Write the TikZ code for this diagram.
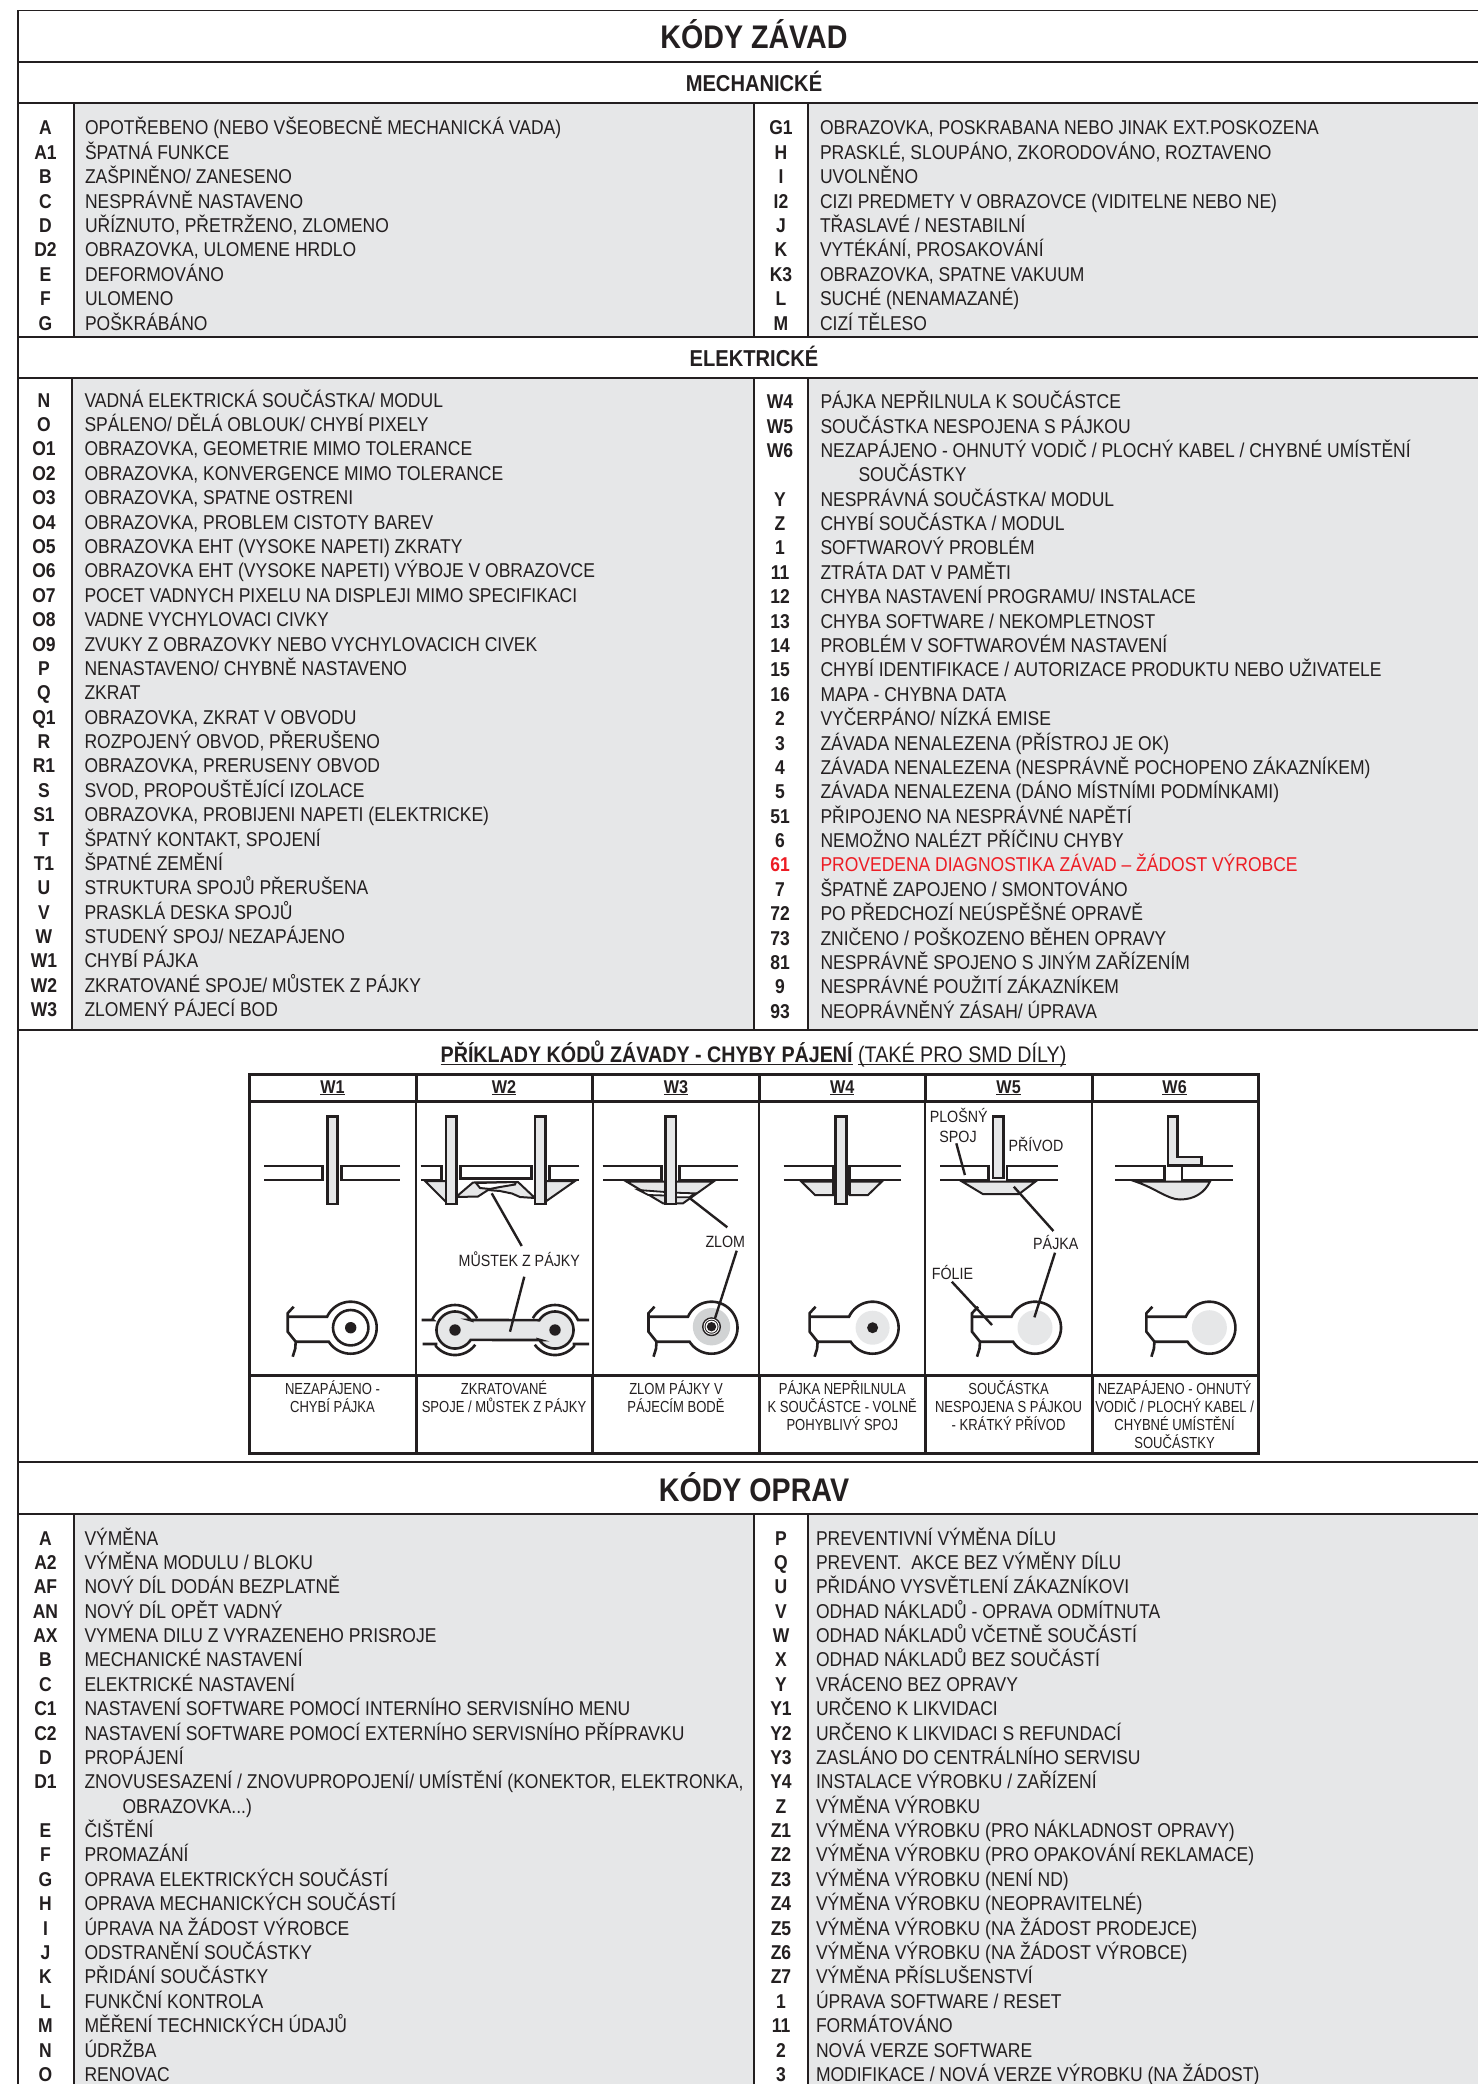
\documentclass[tikz,border=0pt]{standalone}
\usepackage{fontspec}
\setmainfont[FakeStretch=0.875]{Liberation Sans}
\newfontfamily\capfont[FakeStretch=0.815]{Liberation Sans}
\definecolor{ink}{HTML}{231F20}
\definecolor{panel}{HTML}{E6E7E8}
\definecolor{disk}{HTML}{D1D3D4}
\definecolor{redtxt}{HTML}{ED1C24}
\newcount\rowid \rowid=0
\newcommand\startrows[3]{\def\cx{#1}\def\tx{#2}\def\ry{#3}}
\newcommand\rw[3][]{\advance\rowid by 1
  \node[rowcode,name=c\the\rowid,#1] at (\cx,\ry) {#2};
  \node[rowdesc,name=d\the\rowid,#1] at (\tx,\ry) {#3};
  \pgfmathsetmacro\ry{\ry+24.38}}
\newcommand\rwc[1]{\advance\rowid by 1
  \node[rowdesc,name=d\the\rowid] at (\tx+38,\ry) {#1};
  \pgfmathsetmacro\ry{\ry+24.38}}
\newcommand\ulx[1]{\underline{\smash{#1}}}
\newcommand\capcell[3]{\node[capt,name=#1] at (#2,1394) {\parbox[t]{167pt}{\centering\capfont\fontsize{16}{18}\selectfont #3}};}
% pad with narrowing track, centred at #1,#2
\newcommand\padout[2]{
  \begin{scope}[shift={(#1,#2)}]
  \draw[part] (-63,-11) -- plot[domain=205:507.4,samples=60] ({26*cos(\x)},{26*sin(\x)}) -- (-55,14);
  \draw[part] (-57,-21) -- (-63,-14.5) -- (-63,4) -- (-55,14) -- (-55.5,21) -- (-58,29);
  \end{scope}}
% through-board pin
\newcommand\pinrect[2]{\draw[part,fill=panel] (#1,1116.5) rectangle (#2,1204);}
\tikzset{
  rule/.style={draw=ink,line width=1.5pt},
  rowcode/.style={anchor=base,inner sep=0pt,outer sep=0pt,font=\fontsize{20}{24}\selectfont\bfseries,text=ink},
  rowdesc/.style={anchor=base west,inner sep=0pt,outer sep=0pt,font=\fontsize{20}{24}\selectfont,text=ink},
  redrow/.style={text=redtxt},
  title/.style={anchor=base,inner sep=0pt,outer sep=0pt,font=\fontsize{32.7}{36}\selectfont\bfseries,text=ink},
  subtitle/.style={anchor=base,inner sep=0pt,outer sep=0pt,font=\fontsize{23}{26}\selectfont\bfseries,text=ink},
  head/.style={anchor=base,inner sep=0pt,outer sep=0pt,font=\fontsize{18.5}{20}\selectfont\bfseries,text=ink},
  capt/.style={anchor=base,inner sep=0pt,outer sep=0pt,text=ink},
  lab/.style={anchor=base,inner sep=0pt,outer sep=0pt,font=\fontsize{16.3}{18}\selectfont,text=ink},
  part/.style={draw=ink,line width=2.6pt,line join=miter},
  leader/.style={draw=ink,line width=2.4pt},
  thick3/.style={draw=ink,line width=3pt},
  thin2/.style={draw=ink,line width=2pt}
}
\begin{document}
\begin{tikzpicture}[x=1pt,y=-1pt]
\useasboundingbox (0,0) rectangle (1478,2084);
\fill[white] (0,0) rectangle (1478,2084);
% grey panels
\fill[panel] (74,103) rectangle (754,337);
\fill[panel] (808,103) rectangle (1478,337);
\fill[panel] (72,378) rectangle (754,1030);
\fill[panel] (808,378) rectangle (1478,1030);
\fill[panel] (74,1514) rectangle (754,2084);
\fill[panel] (808,1514) rectangle (1478,2084);
% rules
\draw[rule] (1478,10.7) -- (18,10.7) -- (18,2084);
\foreach \yy in {62,103,337,378,1030,1462,1514} \draw[rule] (18,\yy) -- (1478,\yy);
\draw[rule] (74,103) -- (74,337);
\draw[rule] (754,103) -- (754,337);
\draw[rule] (808,103) -- (808,337);
\draw[rule] (72,378) -- (72,1030);
\draw[rule] (754,378) -- (754,1030);
\draw[rule] (808,378) -- (808,1030);
\draw[rule] (74,1514) -- (74,2084);
\draw[rule] (754,1514) -- (754,2084);
\draw[rule] (808,1514) -- (808,2084);
% titles
\node[title,name=t1] at (754,49) {KÓDY ZÁVAD};
\node[subtitle,name=t2] at (754,91.7) {MECHANICKÉ};
\node[subtitle,name=t3] at (754,366.7) {ELEKTRICKÉ};
\node[title,name=t4] at (754,1501.6) {KÓDY OPRAV};
% mechanical left
\startrows{45.5}{85}{135}
\rw{A}{OPOTŘEBENO (NEBO VŠEOBECNĚ MECHANICKÁ VADA)}
\rw{A1}{ŠPATNÁ FUNKCE}
\rw{B}{ZAŠPINĚNO/ ZANESENO}
\rw{C}{NESPRÁVNĚ NASTAVENO}
\rw{D}{UŘÍZNUTO, PŘETRŽENO, ZLOMENO}
\rw{D2}{OBRAZOVKA, ULOMENE HRDLO}
\rw{E}{DEFORMOVÁNO}
\rw{F}{ULOMENO}
\rw{G}{POŠKRÁBÁNO}
% mechanical right
\startrows{781}{820}{135}
\rw{G1}{OBRAZOVKA, POSKRABANA NEBO JINAK EXT.POSKOZENA}
\rw{H}{PRASKLÉ, SLOUPÁNO, ZKORODOVÁNO, ROZTAVENO}
\rw{I}{UVOLNĚNO}
\rw{I2}{CIZI PREDMETY V OBRAZOVCE (VIDITELNE NEBO NE)}
\rw{J}{TŘASLAVÉ / NESTABILNÍ}
\rw{K}{VYTÉKÁNÍ, PROSAKOVÁNÍ}
\rw{K3}{OBRAZOVKA, SPATNE VAKUUM}
\rw{L}{SUCHÉ (NENAMAZANÉ)}
\rw{M}{CIZÍ TĚLESO}
% electrical left
\startrows{44}{84.5}{407.2}
\rw{N}{VADNÁ ELEKTRICKÁ SOUČÁSTKA/ MODUL}
\rw{O}{SPÁLENO/ DĚLÁ OBLOUK/ CHYBÍ PIXELY}
\rw{O1}{OBRAZOVKA, GEOMETRIE MIMO TOLERANCE}
\rw{O2}{OBRAZOVKA, KONVERGENCE MIMO TOLERANCE}
\rw{O3}{OBRAZOVKA, SPATNE OSTRENI}
\rw{O4}{OBRAZOVKA, PROBLEM CISTOTY BAREV}
\rw{O5}{OBRAZOVKA EHT (VYSOKE NAPETI) ZKRATY}
\rw{O6}{OBRAZOVKA EHT (VYSOKE NAPETI) VÝBOJE V OBRAZOVCE}
\rw{O7}{POCET VADNYCH PIXELU NA DISPLEJI MIMO SPECIFIKACI}
\rw{O8}{VADNE VYCHYLOVACI CIVKY}
\rw{O9}{ZVUKY Z OBRAZOVKY NEBO VYCHYLOVACICH CIVEK}
\rw{P}{NENASTAVENO/ CHYBNĚ NASTAVENO}
\rw{Q}{ZKRAT}
\rw{Q1}{OBRAZOVKA, ZKRAT V OBVODU}
\rw{R}{ROZPOJENÝ OBVOD, PŘERUŠENO}
\rw{R1}{OBRAZOVKA, PRERUSENY OBVOD}
\rw{S}{SVOD, PROPOUŠTĚJÍCÍ IZOLACE}
\rw{S1}{OBRAZOVKA, PROBIJENI NAPETI (ELEKTRICKE)}
\rw{T}{ŠPATNÝ KONTAKT, SPOJENÍ}
\rw{T1}{ŠPATNÉ ZEMĚNÍ}
\rw{U}{STRUKTURA SPOJŮ PŘERUŠENA}
\rw{V}{PRASKLÁ DESKA SPOJŮ}
\rw{W}{STUDENÝ SPOJ/ NEZAPÁJENO}
\rw{W1}{CHYBÍ PÁJKA}
\rw{W2}{ZKRATOVANÉ SPOJE/ MŮSTEK Z PÁJKY}
\rw{W3}{ZLOMENÝ PÁJECÍ BOD}
% electrical right
\startrows{780}{820.5}{408.7}
\rw{W4}{PÁJKA NEPŘILNULA K SOUČÁSTCE}
\rw{W5}{SOUČÁSTKA NESPOJENA S PÁJKOU}
\rw{W6}{NEZAPÁJENO - OHNUTÝ VODIČ / PLOCHÝ KABEL / CHYBNÉ UMÍSTĚNÍ}
\rwc{SOUČÁSTKY}
\rw{Y}{NESPRÁVNÁ SOUČÁSTKA/ MODUL}
\rw{Z}{CHYBÍ SOUČÁSTKA / MODUL}
\rw{1}{SOFTWAROVÝ PROBLÉM}
\rw{11}{ZTRÁTA DAT V PAMĚTI}
\rw{12}{CHYBA NASTAVENÍ PROGRAMU/ INSTALACE}
\rw{13}{CHYBA SOFTWARE / NEKOMPLETNOST}
\rw{14}{PROBLÉM V SOFTWAROVÉM NASTAVENÍ}
\rw{15}{CHYBÍ IDENTIFIKACE / AUTORIZACE PRODUKTU NEBO UŽIVATELE}
\rw{16}{MAPA - CHYBNA DATA}
\rw{2}{VYČERPÁNO/ NÍZKÁ EMISE}
\rw{3}{ZÁVADA NENALEZENA (PŘÍSTROJ JE OK)}
\rw{4}{ZÁVADA NENALEZENA (NESPRÁVNĚ POCHOPENO ZÁKAZNÍKEM)}
\rw{5}{ZÁVADA NENALEZENA (DÁNO MÍSTNÍMI PODMÍNKAMI)}
\rw{51}{PŘIPOJENO NA NESPRÁVNÉ NAPĚTÍ}
\rw{6}{NEMOŽNO NALÉZT PŘÍČINU CHYBY}
\rw[redrow]{61}{PROVEDENA DIAGNOSTIKA ZÁVAD – ŽÁDOST VÝROBCE}
\rw{7}{ŠPATNĚ ZAPOJENO / SMONTOVÁNO}
\rw{72}{PO PŘEDCHOZÍ NEÚSPĚŠNÉ OPRAVĚ}
\rw{73}{ZNIČENO / POŠKOZENO BĚHEN OPRAVY}
\rw{81}{NESPRÁVNĚ SPOJENO S JINÝM ZAŘÍZENÍM}
\rw{9}{NESPRÁVNÉ POUŽITÍ ZÁKAZNÍKEM}
\rw{93}{NEOPRÁVNĚNÝ ZÁSAH/ ÚPRAVA}
% repair left
\startrows{45.5}{84.5}{1545}
\rw{A}{VÝMĚNA}
\rw{A2}{VÝMĚNA MODULU / BLOKU}
\rw{AF}{NOVÝ DÍL DODÁN BEZPLATNĚ}
\rw{AN}{NOVÝ DÍL OPĚT VADNÝ}
\rw{AX}{VYMENA DILU Z VYRAZENEHO PRISROJE}
\rw{B}{MECHANICKÉ NASTAVENÍ}
\rw{C}{ELEKTRICKÉ NASTAVENÍ}
\rw{C1}{NASTAVENÍ SOFTWARE POMOCÍ INTERNÍHO SERVISNÍHO MENU}
\rw{C2}{NASTAVENÍ SOFTWARE POMOCÍ EXTERNÍHO SERVISNÍHO PŘÍPRAVKU}
\rw{D}{PROPÁJENÍ}
\rw{D1}{ZNOVUSESAZENÍ / ZNOVUPROPOJENÍ/ UMÍSTĚNÍ (KONEKTOR, ELEKTRONKA,}
\rwc{OBRAZOVKA...)}
\rw{E}{ČIŠTĚNÍ}
\rw{F}{PROMAZÁNÍ}
\rw{G}{OPRAVA ELEKTRICKÝCH SOUČÁSTÍ}
\rw{H}{OPRAVA MECHANICKÝCH SOUČÁSTÍ}
\rw{I}{ÚPRAVA NA ŽÁDOST VÝROBCE}
\rw{J}{ODSTRANĚNÍ SOUČÁSTKY}
\rw{K}{PŘIDÁNÍ SOUČÁSTKY}
\rw{L}{FUNKČNÍ KONTROLA}
\rw{M}{MĚŘENÍ TECHNICKÝCH ÚDAJŮ}
\rw{N}{ÚDRŽBA}
\rw{O}{RENOVAC}
% repair right
\startrows{781}{816}{1545}
\rw{P}{PREVENTIVNÍ VÝMĚNA DÍLU}
\rw{Q}{PREVENT.\ \ AKCE BEZ VÝMĚNY DÍLU}
\rw{U}{PŘIDÁNO VYSVĚTLENÍ ZÁKAZNÍKOVI}
\rw{V}{ODHAD NÁKLADŮ - OPRAVA ODMÍTNUTA}
\rw{W}{ODHAD NÁKLADŮ VČETNĚ SOUČÁSTÍ}
\rw{X}{ODHAD NÁKLADŮ BEZ SOUČÁSTÍ}
\rw{Y}{VRÁCENO BEZ OPRAVY}
\rw{Y1}{URČENO K LIKVIDACI}
\rw{Y2}{URČENO K LIKVIDACI S REFUNDACÍ}
\rw{Y3}{ZASLÁNO DO CENTRÁLNÍHO SERVISU}
\rw{Y4}{INSTALACE VÝROBKU / ZAŘÍZENÍ}
\rw{Z}{VÝMĚNA VÝROBKU}
\rw{Z1}{VÝMĚNA VÝROBKU (PRO NÁKLADNOST OPRAVY)}
\rw{Z2}{VÝMĚNA VÝROBKU (PRO OPAKOVÁNÍ REKLAMACE)}
\rw{Z3}{VÝMĚNA VÝROBKU (NENÍ ND)}
\rw{Z4}{VÝMĚNA VÝROBKU (NEOPRAVITELNÉ)}
\rw{Z5}{VÝMĚNA VÝROBKU (NA ŽÁDOST PRODEJCE)}
\rw{Z6}{VÝMĚNA VÝROBKU (NA ŽÁDOST VÝROBCE)}
\rw{Z7}{VÝMĚNA PŘÍSLUŠENSTVÍ}
\rw{1}{ÚPRAVA SOFTWARE / RESET}
\rw{11}{FORMÁTOVÁNO}
\rw{2}{NOVÁ VERZE SOFTWARE}
\rw{3}{MODIFIKACE / NOVÁ VERZE VÝROBKU (NA ŽÁDOST)}
% examples title
\node[anchor=base,inner sep=0pt,outer sep=0pt,text=ink,name=extitle,font=\fontsize{22.5}{24}\selectfont] at (753.5,1062.3)
  {\ulx{\bfseries PŘÍKLADY KÓDŮ ZÁVADY - CHYBY PÁJENÍ} \ulx{(TAKÉ PRO SMD DÍLY)}};
% examples table frame
\draw[thick3] (249,1074) rectangle (1258,1453);
\draw[thick3] (249,1101) -- (1258,1101);
\draw[thick3] (249,1375.7) -- (1258,1375.7);
\foreach \xx in {416,592.7,759,925,1092} {
  \draw[thick3] (\xx,1074) -- (\xx,1101);
  \draw[thin2] (\xx,1101) -- (\xx,1375.7);
  \draw[thick3] (\xx,1375.7) -- (\xx,1453);
}
% headers
\node[head,name=hw1] at (332.5,1093) {\ulx{W1}};
\node[head,name=hw2] at (504,1093) {\ulx{W2}};
\node[head,name=hw3] at (676,1093) {\ulx{W3}};
\node[head,name=hw4] at (842.3,1093) {\ulx{W4}};
\node[head,name=hw5] at (1008.6,1093) {\ulx{W5}};
\node[head,name=hw6] at (1174.6,1093) {\ulx{W6}};
% captions
\capcell{cw1}{332.5}{NEZAPÁJENO -\\CHYBÍ PÁJKA}
\capcell{cw2}{504}{ZKRATOVANÉ\\SPOJE / MŮSTEK Z PÁJKY}
\capcell{cw3}{676}{ZLOM PÁJKY V\\PÁJECÍM BODĚ}
\capcell{cw4}{842.3}{PÁJKA NEPŘILNULA\\K SOUČÁSTCE - VOLNĚ\\POHYBLIVÝ SPOJ}
\capcell{cw5}{1008.6}{SOUČÁSTKA\\NESPOJENA S PÁJKOU\\- KRÁTKÝ PŘÍVOD}
\capcell{cw6}{1174.6}{NEZAPÁJENO - OHNUTÝ\\VODIČ / PLOCHÝ KABEL /\\CHYBNÉ UMÍSTĚNÍ\\SOUČÁSTKY}
% W1
\draw[part] (264.3,1166) -- (322.7,1166) -- (322.7,1180) -- (264.3,1180);
\draw[part] (400,1166) -- (341.7,1166) -- (341.7,1180) -- (400,1180);
\pinrect{327.3}{337.3}
\padout{350.7}{1327.7}
\draw[part] (350.7,1327.7) circle (17.7);
\fill[ink] (350.7,1327.7) circle (5.7);
% W2
\draw[part] (420.7,1166) -- (441.7,1166) -- (441.7,1180) -- (420.7,1180);
\draw[part] (460.7,1166) rectangle (531.7,1178.5);
\draw[part] (579.3,1166) -- (549.3,1166) -- (549.3,1180) -- (579.3,1180);
\draw[part,line width=2pt,fill=panel] (425,1181) -- (446,1181) -- (446,1202) -- cycle;
\draw[part,line width=2pt,fill=panel] (575,1181) -- (545,1181) -- (545,1202) -- cycle;
\draw[part,line width=2pt,fill=panel] (456,1197) -- (473,1182.5) -- (518,1182) -- (535,1198) -- (520,1197) -- (512,1193.5) -- (500,1191) -- (488,1190) -- (478,1196.5) -- cycle;
\draw[part,line width=2pt,fill=white] (476,1183) -- (480,1188) -- (490,1189) -- (500,1187) -- (515,1184.5) -- (516,1182) -- cycle;
\pinrect{446}{456.7}
\pinrect{535}{545.7}
\draw[leader] (491.7,1193.3) -- (521.7,1246);
\node[lab,name=lw2] at (519.3,1266) {MŮSTEK Z PÁJKY};
\draw[part] (421.7,1320) -- (433,1320) -- plot[domain=205:332,samples=30] ({455+25*cos(\x)},{1330+25*sin(\x)});
\draw[part] (422.7,1344) -- (436,1344) -- plot[domain=140:36,samples=30] ({455+25*cos(\x)},{1330+25*sin(\x)});
\draw[part] (589,1320) -- (578,1320) -- plot[domain=335:208,samples=30] ({555+25*cos(\x)},{1330+25*sin(\x)});
\draw[part] (589,1344) -- (574,1344) -- plot[domain=40:144,samples=30] ({555+25*cos(\x)},{1330+25*sin(\x)});
\draw[part,fill=panel] plot[domain=328:32,samples=50] ({455+18.5*cos(\x)},{1330+18.5*sin(\x)})
  .. controls (495,1340) and (515,1340) .. (540,1340)
  -- plot[domain=148:-148,samples=50] ({555+18.5*cos(\x)},{1330+18.5*sin(\x)})
  .. controls (515,1320) and (495,1320) .. (470,1320) -- cycle;
\fill[ink] (455,1330) circle (5.7);
\fill[ink] (555,1330) circle (5.7);
\draw[leader] (524.3,1276.7) -- (510,1331.7);
% W3
\draw[part] (602.7,1166) -- (661.7,1166) -- (661.7,1180) -- (602.7,1180);
\draw[part] (738.3,1166) -- (679.3,1166) -- (679.3,1180) -- (738.3,1180);
\draw[part,line width=2pt,fill=panel] (626.7,1181.7) -- (663,1203.3) -- (683,1203.3) -- (713.3,1181.7) -- cycle;
\draw[part,line width=1.8pt,fill=white] (638.3,1190) -- (665.5,1192) -- (665.5,1195.5) -- (648.3,1195) -- cycle;
\draw[part,line width=1.8pt,fill=white] (675,1192.7) -- (695,1193.3) -- (689.3,1197.3) -- (675,1197.3) -- cycle;
\pinrect{665.3}{676}
\draw[leader] (690,1198.3) -- (727.3,1227.3);
\node[lab,name=lw3] at (725.3,1247.3) {ZLOM};
\padout{711.5}{1327.7}
\fill[disk] (711.5,1326.7) circle (18.7);
\fill[ink] (711.5,1326.7) circle (9.5);
\fill[white] (711.5,1326.7) circle (8);
\fill[ink] (711.5,1326.7) circle (7);
\fill[white] (711.5,1326.7) circle (6);
\fill[ink] (711.5,1326.7) circle (4.7);
\draw[leader] (736.7,1250.7) -- (715,1318.3);
% W4
\draw[part,line width=2pt,fill=panel] (801.3,1181.5) -- (833.7,1181.5) -- (833.7,1195) -- (815,1195) -- cycle;
\draw[part,line width=2pt,fill=panel] (881.9,1181.5) -- (849.5,1181.5) -- (849.5,1195) -- (868,1195) -- cycle;
\draw[part] (783.7,1166) -- (833.7,1166) -- (833.7,1195);
\draw[part] (901,1166) -- (849.5,1166) -- (849.5,1195);
\draw[part] (783.7,1180) -- (833.7,1180);
\draw[part] (901,1180) -- (849.5,1180);
\pinrect{835.7}{846.7}
\padout{872.6}{1327.7}
\fill[panel] (872.6,1327.7) circle (17);
\fill[ink] (872.6,1327.7) circle (5.5);
% W5
\draw[part,line width=2pt,fill=panel] (962,1181.5) -- (1035.5,1181.5) -- (1019,1194) -- (982.8,1194) -- cycle;
\draw[part] (940.4,1166) -- (988.6,1166) -- (988.6,1180) -- (940.4,1180);
\draw[part] (1057.5,1166) -- (1006.9,1166) -- (1006.9,1180) -- (1057.5,1180);
\draw[part,fill=panel] (993,1116.5) rectangle (1003.4,1178);
\draw[leader] (956.3,1143.3) -- (964.9,1175);
\draw[leader] (1013.8,1186.7) -- (1053.4,1231);
\draw[leader] (951.8,1281.7) -- (992,1325);
\node[lab,name=lw5a] at (958.7,1122) {PLOŠNÝ};
\node[lab,name=lw5b] at (958,1142) {SPOJ};
\node[lab,name=lw5c] at (1036,1151.7) {PŘÍVOD};
\node[lab,name=lw5d] at (1055.8,1249.5) {PÁJKA};
\node[lab,name=lw5e] at (952.5,1279) {FÓLIE};
\padout{1035}{1327.7}
\fill[panel] (1035,1327.7) circle (17.5);
\draw[leader] (1055,1252.7) -- (1034.4,1317.3);
% W6
\draw[part,line width=2pt,fill=panel] (1135.3,1181.5) .. controls (1155,1188) and (1168,1199.5) .. (1180,1199.5) .. controls (1195,1199.5) and (1205,1192) .. (1210,1181.5) -- cycle;
\draw[part] (1115.3,1166) -- (1164.2,1166) -- (1164.2,1180) -- (1115.3,1180);
\draw[part] (1233,1166) -- (1181.8,1166) -- (1181.8,1180) -- (1233,1180);
\draw[part,fill=panel] (1168,1116.5) -- (1177.5,1116.5) -- (1177.5,1157) -- (1201.5,1157) -- (1201.5,1165.5) -- (1168,1165.5) -- cycle;
\padout{1209.4}{1327.7}
\fill[panel] (1209.4,1327.7) circle (17.5);
\end{tikzpicture}
\end{document}
